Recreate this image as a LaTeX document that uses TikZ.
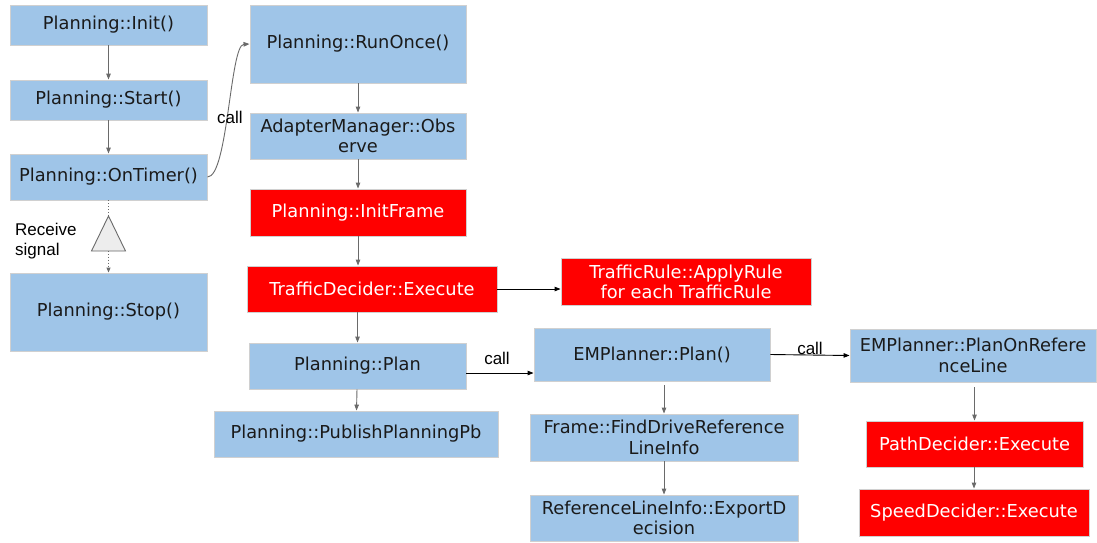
\documentclass[tikz,border=0pt]{standalone}
\usepackage{fontspec}
\setmainfont{DejaVu Sans}
\newfontfamily\labelfont{Liberation Sans}
\usetikzlibrary{arrows.meta,calc}

\definecolor{boxblue}{HTML}{9FC5E8}
\definecolor{boxred}{HTML}{FF0000}
\definecolor{boxedge}{HTML}{D0D0D0}
\definecolor{flowgray}{HTML}{6A6A6A}
\definecolor{txtdark}{HTML}{1A1A1A}

\tikzset{
  x=1pt, y=-1pt,
  box/.style={draw=boxedge, line width=0.9pt, inner sep=0pt, align=center,
              font=\fontsize{17.8}{20.5}\selectfont},
  bluebox/.style={box, fill=boxblue, text=txtdark},
  redbox/.style={box, fill=boxred, text=white},
  flow/.style={draw=flowgray, line width=0.9pt,
               -{Triangle[length=6pt,width=4.5pt]}},
  callflow/.style={draw=black, line width=0.9pt,
               -{Triangle[length=6pt,width=4.5pt]}},
  signal/.style={draw=flowgray, line width=0.9pt, dotted},
  calltext/.style={font=\labelfont\fontsize{17}{20}\selectfont, text=black, inner sep=0pt},
}

\begin{document}
\begin{tikzpicture}
\useasboundingbox[fill=white] (0,0) rectangle (1097,542);

% life cycle of the planning module
\node[bluebox, minimum width=197, minimum height=40] (init)    at (108.5,25)  {Planning::Init()};
\node[bluebox, minimum width=197, minimum height=40] (start)   at (108.5,100) {Planning::Start()};
\node[bluebox, minimum width=197, minimum height=46] (ontimer) at (108.5,177) {Planning::OnTimer()};
\node[bluebox, minimum width=197, minimum height=78] (stop)    at (108.5,312) {Planning::Stop()};

% one planning cycle
\node[bluebox, minimum width=216, minimum height=78] (runonce)   at (358,44)    {Planning::RunOnce()};
\node[bluebox, minimum width=216, minimum height=46] (adapter)   at (358,136)   {AdapterManager::Obs\\erve};
\node[redbox,  minimum width=216, minimum height=47] (initframe) at (358,212.5) {Planning::InitFrame};
\node[redbox,  minimum width=250, minimum height=46] (trafficdec) at (372,289)  {TrafficDecider::Execute};
\node[redbox,  minimum width=250, minimum height=47] (trafficrule) at (686,282) {TrafficRule::ApplyRule\\for each TrafficRule};
\node[bluebox, minimum width=217, minimum height=46] (plan)      at (357.5,366) {Planning::Plan};
\node[bluebox, minimum width=284, minimum height=46] (publish)   at (356,434)   {Planning::PublishPlanningPb};

% EM planner
\node[bluebox, minimum width=236, minimum height=53] (emplan)    at (652,354.5) {EMPlanner::Plan()};
\node[bluebox, minimum width=268, minimum height=47] (finddrive) at (664,437.5) {Frame::FindDriveReference\\LineInfo};
\node[bluebox, minimum width=268, minimum height=46] (export)    at (664,518)   {ReferenceLineInfo::ExportD\\ecision};
\node[bluebox, minimum width=246, minimum height=53] (planonref) at (973,355.5) {EMPlanner::PlanOnRefere\\nceLine};
\node[redbox,  minimum width=217, minimum height=46] (pathdec)   at (974.5,444) {PathDecider::Execute};
\node[redbox,  minimum width=230, minimum height=47] (speeddec)  at (974,512.5) {SpeedDecider::Execute};

% start-up sequence
\draw[flow] (init) -- (start);
\draw[flow] (start) -- (ontimer);

% stop signal
\coordinate (sigtop) at (108.5,216);
\coordinate (sigbot) at (108.5,251);
\draw[draw=flowgray, fill=black!7, line width=0.9pt]
  (sigtop) -- (125.5,251) -- (91.5,251) -- cycle;
\draw[signal] (ontimer) -- (sigtop);
\draw[signal, -{Triangle[length=5pt,width=4pt]}] (sigbot) -- (stop);
\node[calltext, align=left, anchor=west] (recv) at (15,241) {Receive\\signal};

% timer calls one planning cycle
\draw[flow] (ontimer.east) .. controls (228,177) and (230,45) .. (runonce.west);
\node[calltext] (calltimer) at (230,117) {call};

% planning cycle
\draw[flow] (runonce) -- (adapter);
\draw[flow] (adapter) -- (initframe);
\draw[flow] (initframe.south) -- (initframe.south |- trafficdec.north);
\draw[callflow] (trafficdec.east) -- (trafficdec.east -| trafficrule.west);
\draw[flow] (plan.north |- trafficdec.south) -- (plan.north);
\draw[flow] (plan) -- (publish);

% planner calls
\draw[callflow] ([yshift=-7pt]plan.east) -- ([yshift=-7pt]plan.east -| emplan.west);
\node[calltext] (callplan) at (497,358) {call};
\draw[callflow] (emplan.east) -- (planonref.west);
\node[calltext] (callref) at (810,348) {call};

\draw[flow, shorten <=4pt] (emplan.south -| finddrive) -- (finddrive.north);
\draw[flow] (finddrive) -- (export);
\draw[flow, shorten <=5pt] (planonref.south -| pathdec) -- (pathdec.north);
\draw[flow] (pathdec.south -| speeddec) -- (speeddec.north);
\end{tikzpicture}
\end{document}
